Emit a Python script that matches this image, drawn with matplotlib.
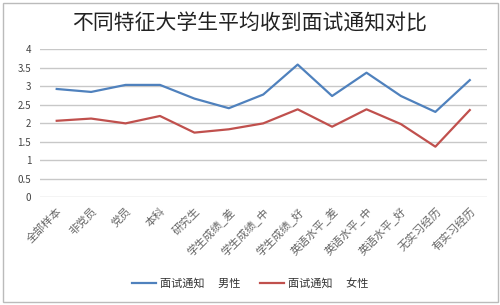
import matplotlib
matplotlib.use("Agg")
import matplotlib.pyplot as plt
from matplotlib.patches import Rectangle

plt.rcParams['font.family'] = ['Noto Sans CJK SC', 'DejaVu Sans']

# 数据
categories = ["全部样本", "非党员", "党员", "本科", "研究生", "学生成绩_差", "学生成绩_中",
              "学生成绩_好", "英语水平_差", "英语水平_中", "英语水平_好", "无实习经历", "有实习经历"]
male = [2.93, 2.85, 3.04, 3.04, 2.67, 2.41, 2.78, 3.59, 2.74, 3.37, 2.74, 2.31, 3.17]
female = [2.07, 2.13, 2.00, 2.20, 1.75, 1.84, 2.00, 2.38, 1.91, 2.38, 1.98, 1.37, 2.36]
yticks = [0, 0.5, 1, 1.5, 2, 2.5, 3, 3.5, 4]
ytick_labels = ["0", "0.5", "1", "1.5", "2", "2.5", "3", "3.5", "4"]

fig = plt.figure(figsize=(5, 3.05), dpi=100)
ax = fig.add_axes([0.079, 0.353, 0.895, 0.485])

x = range(len(categories))
ax.plot(x, male, color="#4F81BD", lw=1.6, label="面试通知　 男性")
ax.plot(x, female, color="#C0504D", lw=1.6, label="面试通知　 女性")

ax.set_xlim(-0.5, len(categories) - 0.5)
ax.set_ylim(0, 4)
ax.set_yticks(yticks)
ax.set_yticklabels(ytick_labels, fontsize=7, color="#444444")
ax.set_xticks(list(x))
ax.set_xticklabels(categories, rotation=45, ha="right", rotation_mode="anchor",
                   fontsize=8, color="#666666")
ax.tick_params(length=0, pad=6)
ax.grid(True, axis="y", color="#C8C8C8", lw=1)
ax.set_axisbelow(True)
for s in ax.spines.values():
    s.set_visible(False)

fig.text(0.5, 0.922, "不同特征大学生平均收到面试通知对比", ha="center", va="center",
         fontsize=15, fontweight="medium", color="#222222")

fig.legend(loc="center", bbox_to_anchor=(0.5, 0.07), ncol=2, frameon=False,
           fontsize=8, handlelength=2.2, handletextpad=0.3, columnspacing=1.8,
           labelcolor="#333333")

fig.patches.append(Rectangle((0.005, 0.01), 0.99, 0.98, transform=fig.transFigure,
                             fill=False, edgecolor="#BBBBBB", lw=1))

fig.savefig("out.png", dpi=100)
